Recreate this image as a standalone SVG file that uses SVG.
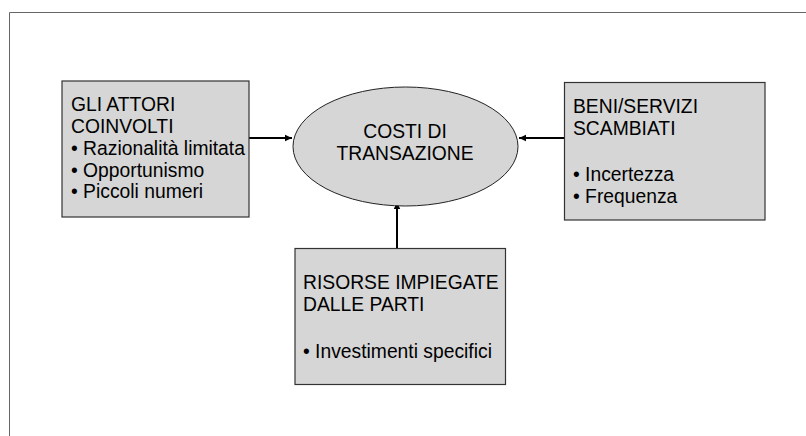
<svg xmlns="http://www.w3.org/2000/svg" width="806" height="436" viewBox="0 0 806 436">
<defs>
<style>
.box{fill:#d6d6d6;stroke:#333;stroke-width:1.2}
.t{font-family:"Liberation Sans",Arial,sans-serif;font-size:19.3px;fill:#000}
.c{stroke:#000;stroke-width:2;fill:none}
</style>
<marker id="ah" markerWidth="8" markerHeight="8" refX="7" refY="4" orient="auto" markerUnits="userSpaceOnUse">
<path d="M0,0.8 L7,4 L0,7.2 Z" fill="#000"/>
</marker>
</defs>
<rect width="806" height="436" fill="#fff"/>
<path d="M9.5,436 V12.5 H806" fill="none" stroke="#666" stroke-width="1"/>
<g id="connectors">
<line class="c" x1="249" y1="138" x2="292" y2="138" marker-end="url(#ah)"/>
<line class="c" x1="564" y1="138" x2="519" y2="138" marker-end="url(#ah)"/>
<line class="c" x1="397" y1="248" x2="397" y2="202" marker-end="url(#ah)"/>
</g>
<g id="attori">
<rect class="box" x="62" y="81" width="187" height="136"/>
<text class="t" x="71" y="111">GLI ATTORI</text>
<text class="t" x="71" y="132.5">COINVOLTI</text>
<text class="t" x="71" y="154.5">• Razionalità limitata</text>
<text class="t" x="71" y="176.5">• Opportunismo</text>
<text class="t" x="71" y="198">• Piccoli numeri</text>
</g>
<g id="costi">
<ellipse cx="405.5" cy="146.5" rx="112.5" ry="59.5" fill="#d6d6d6" stroke="#222" stroke-width="1"/>
<text class="t" x="405" y="137.5" text-anchor="middle">COSTI DI</text>
<text class="t" x="405" y="159.5" text-anchor="middle">TRANSAZIONE</text>
</g>
<g id="beni">
<rect class="box" x="564.5" y="82.5" width="200.5" height="137.5"/>
<text class="t" x="573" y="113">BENI/SERVIZI</text>
<text class="t" x="573" y="135">SCAMBIATI</text>
<text class="t" x="573" y="181">• Incertezza</text>
<text class="t" x="573" y="202.5">• Frequenza</text>
</g>
<g id="risorse">
<rect class="box" x="295" y="248.5" width="210.5" height="136"/>
<text class="t" x="303" y="289">RISORSE IMPIEGATE</text>
<text class="t" x="303" y="310.5">DALLE PARTI</text>
<text class="t" x="303" y="358">• Investimenti specifici</text>
</g>
</svg>
